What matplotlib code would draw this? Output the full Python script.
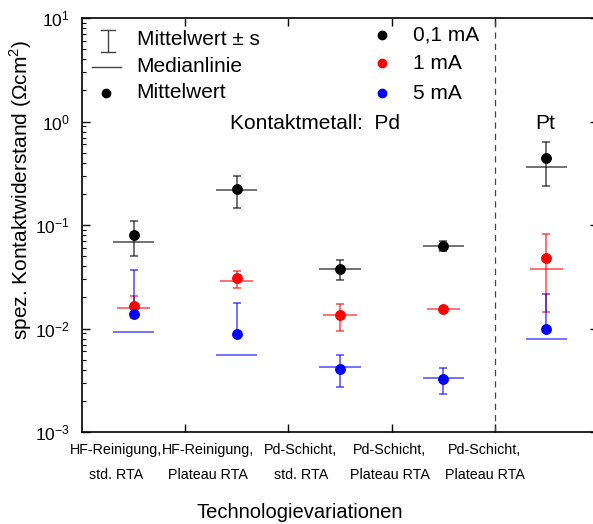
import numpy as np
import matplotlib
matplotlib.use("Agg")
import matplotlib.pyplot as plt

plt.rcParams['font.family'] = ['Liberation Sans', 'DejaVu Sans']
plt.rcParams['mathtext.fontset'] = 'custom'
plt.rcParams['mathtext.rm'] = 'Liberation Sans'
plt.rcParams['axes.unicode_minus'] = False

# categories (x tick labels)
categories = ["HF-Reinigung,\nstd. RTA", "HF-Reinigung,\nPlateau RTA",
              "Pd-Schicht,\nstd. RTA", "Pd-Schicht,\nPlateau RTA",
              "Pd-Schicht,\nPlateau RTA"]

# Mittelwert, Standardabweichung, Median per current
mean_01 = [0.080, 0.223, 0.0376, 0.0631, 0.44]
std_01 = [0.030, 0.077, 0.0081, 0.0073, 0.20]
med_01 = [0.069, 0.216, 0.0378, 0.0633, 0.366]

mean_1 = [0.0165, 0.0305, 0.0134, 0.0153, 0.0483]
std_1 = [0.0040, 0.0057, 0.0040, 0.0004, 0.034]
med_1 = [0.0159, 0.0288, 0.0135, 0.0154, 0.0376]

mean_5 = [0.0137, 0.0088, 0.0041, 0.00325, 0.0098]
std_5 = [0.023, 0.0090, 0.0014, 0.0009, 0.0117]
med_5 = [0.0093, 0.0056, 0.0042, 0.0033, 0.0079]

series = [("0,1 mA", mean_01, std_01, med_01, "black", 0.20),
          ("1 mA", mean_1, std_1, med_1, "red", 0.16),
          ("5 mA", mean_5, std_5, med_5, "blue", 0.20)]

label_pos = [0.83, 1.72, 2.62, 3.48, 4.40]

fig = plt.figure(figsize=(5.93, 5.24), dpi=100)
ax = fig.add_axes([82/593, 92/524, 516/593, 414/524])

x = np.arange(1, len(categories) + 1)
for name, m, s, med, col, hw in series:
    m = np.array(m)
    s = np.array(s)
    lower = np.where(m - s > 0, s, 0.0)
    ax.errorbar(x, m, yerr=[lower, s], fmt='none', ecolor=col, alpha=0.7,
                elinewidth=1.1, capsize=3, capthick=1.1)
    ax.hlines(med, x - hw, x + hw, colors=col, alpha=0.7, linewidth=1.1)
    ax.plot(x, m, 'o', color=col, markersize=6.8, zorder=5)

ax.axvline(4.5, color='#444444', linestyle=(0, (5, 4)), linewidth=0.9)

ax.set_yscale('log')
ax.set_ylim(1e-3, 10)
ax.set_xlim(0.5, 5.5)
ax.set_xticks([1.5, 2.5, 3.5, 4.5])
ax.set_xticklabels([])
ax.set_xticks(label_pos, minor=True)
ax.set_xticklabels(categories, minor=True, fontsize=10.3, linespacing=2.0)
ax.tick_params(which='both', direction='in', top=True, right=True)
ax.tick_params(which='major', length=6, width=1)
ax.tick_params(which='minor', length=3, width=0.8)
ax.tick_params(axis='x', which='minor', length=0, top=False, pad=8)
ax.tick_params(axis='y', labelsize=12.5, pad=9)
for sp in ax.spines.values():
    sp.set_linewidth(1.2)

# legend-like annotation
tr = ax.transAxes
ax.plot([0.0504, 0.0504], [0.918, 0.971], color='#444444', lw=1, transform=tr)
ax.plot([0.037, 0.064], [0.971, 0.971], color='#444444', lw=1, transform=tr)
ax.plot([0.037, 0.064], [0.918, 0.918], color='#444444', lw=1, transform=tr)
ax.plot([0.0194, 0.0756], [0.882, 0.882], color='#444444', lw=1, transform=tr)
ax.plot([0.0465], [0.819], 'o', color='black', markersize=6, transform=tr)
ax.text(0.106, 0.947, "Mittelwert \u00b1 s", transform=tr, fontsize=15, va='center')
ax.text(0.106, 0.882, "Medianlinie", transform=tr, fontsize=15, va='center')
ax.text(0.106, 0.819, "Mittelwert", transform=tr, fontsize=15, va='center')

rows = [0.959, 0.891, 0.818]
for (name, m, s, med, col, hw), yy in zip(series, rows):
    ax.plot([0.581], [yy], 'o', color=col, markersize=6, transform=tr)
    ax.text(0.641, yy, name, transform=tr, fontsize=15, va='center')

ax.text(0.287, 0.746, "Kontaktmetall:  Pd", transform=tr, fontsize=15, va='center')
ax.text(0.897, 0.746, "Pt", transform=tr, fontsize=15, va='center', ha='center')

fig.text(0.506, 1 - 512/524, "Technologievariationen", fontsize=14.5, ha='center', va='center')
fig.text(21/593, 1 - 190/524, "spez. Kontaktwiderstand (\u03a9cm$^2$)", fontsize=15,
         rotation=90, ha='center', va='center')

fig.savefig("out.png", dpi=100)
